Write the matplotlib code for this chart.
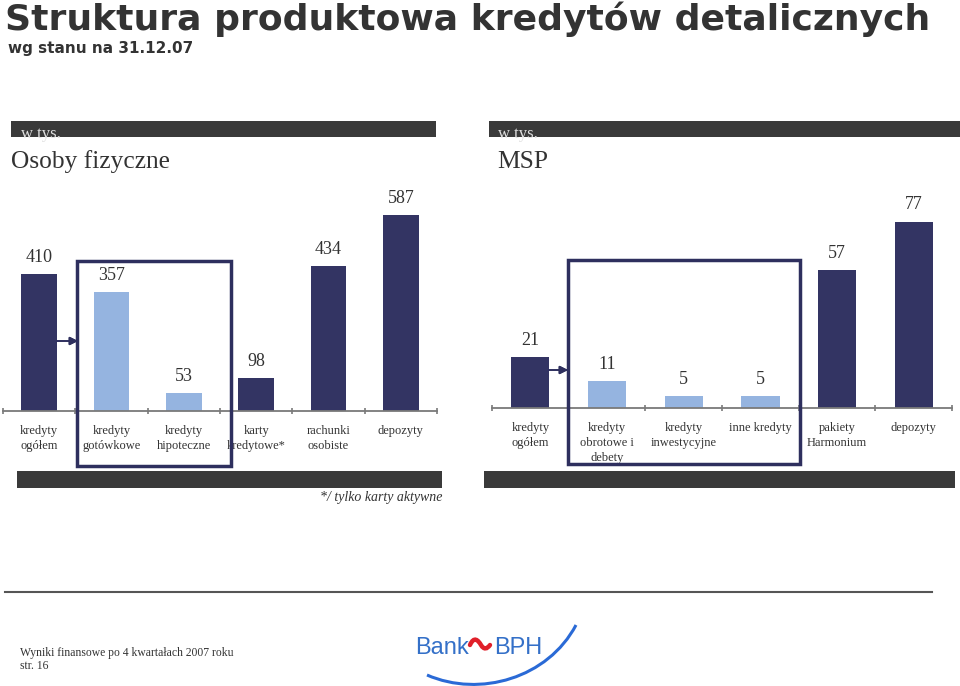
import matplotlib.pyplot as plt
from matplotlib.patches import Rectangle, PathPatch
from matplotlib.path import Path

W, H = 960, 686

# data
osoby_labels = ['kredyty\nogółem', 'kredyty\ngotówkowe', 'kredyty\nhipoteczne',
                'karty\nkredytowe*', 'rachunki\nosobiste', 'depozyty']
osoby_values = [410, 357, 53, 98, 434, 587]
osoby_colors = ['dark', 'light', 'light', 'dark', 'dark', 'dark']

msp_labels = ['kredyty\nogółem', 'kredyty\nobrotowe i\ndebety', 'kredyty\ninwestycyjne',
              'inne kredyty', 'pakiety\nHarmonium', 'depozyty']
msp_values = [21, 11, 5, 5, 57, 77]
msp_colors = ['dark', 'light', 'light', 'light', 'dark', 'dark']

NAVY = '#333463'
LIGHT = '#95b4e0'
GREY = '#3a3a3a'
TXT = '#333333'
SERIF = 'Liberation Serif'

fig = plt.figure(figsize=(9.6, 6.86), dpi=100)


def fx(px):
    return px / W


def fy(py):
    return 1 - py / H


def rect(x0, y0, x1, y1, **kw):
    fig.patches.append(Rectangle((fx(x0), fy(y1)), fx(x1) - fx(x0), fy(y0) - fy(y1),
                                 transform=fig.transFigure, **kw))


def curve(pts, **kw):
    codes = [Path.MOVETO] + [Path.CURVE4] * (len(pts) - 1)
    p = Path([(fx(x), fy(y)) for x, y in pts], codes)
    fig.patches.append(PathPatch(p, fill=False, transform=fig.transFigure, **kw))


# title
fig.text(fx(5), fy(19), 'Struktura produktowa kredytów detalicznych', fontsize=26,
         fontweight='bold', family='DejaVu Sans', color=TXT, va='center')
fig.text(fx(8), fy(48), 'wg stanu na 31.12.07', fontsize=11, fontweight='bold',
         family='DejaVu Sans', color=TXT, va='center')

# header bars
rect(11, 121, 436, 137, color=GREY, lw=0)
rect(489, 121, 960, 137, color=GREY, lw=0)
fig.text(fx(21), fy(138), 'w tys.', fontsize=12, family=SERIF, color='#e0e0e0', va='baseline')
fig.text(fx(498), fy(138), 'w tys.', fontsize=12, family=SERIF, color='#e0e0e0', va='baseline')
fig.text(fx(11), fy(162), 'Osoby fizyczne', fontsize=18.3, family=SERIF, color=TXT, va='center')
fig.text(fx(497), fy(162), 'MSP', fontsize=18.3, family=SERIF, color=TXT, va='center')

# bottom bars
rect(17, 471, 442, 488, color=GREY, lw=0)
rect(484, 471, 955, 488, color=GREY, lw=0)
fig.text(fx(442), fy(498), '*/ tylko karty aktywne', fontsize=10, family=SERIF,
         style='italic', color=TXT, ha='right', va='center')


def panel(left, right, base, scale, ymax, labels, values, colors, width):
    top = base - ymax * scale
    ax = fig.add_axes([fx(left), fy(base), fx(right) - fx(left), (base - top) / H])
    n = len(values)
    cols = [NAVY if c == 'dark' else LIGHT for c in colors]
    bars = ax.bar(range(n), values, width=width, color=cols)
    for b, v in zip(bars, values):
        ax.annotate(str(v), (b.get_x() + b.get_width() / 2, v), xytext=(0, 12),
                    textcoords='offset points', ha='center', va='center',
                    fontsize=13, family=SERIF, color=TXT)
    ax.set_xlim(-0.5, n - 0.5)
    ax.set_ylim(0, ymax)
    for s in ['top', 'right', 'left']:
        ax.spines[s].set_visible(False)
    ax.spines['bottom'].set_color('#7a7a7a')
    ax.spines['bottom'].set_linewidth(1.3)
    ax.set_yticks([])
    ax.set_xticks(range(n))
    ax.set_xticklabels(labels, fontsize=9, family=SERIF, color=TXT, linespacing=1.35,
                       va='top')
    ax.tick_params(axis='x', which='major', length=0, pad=10)
    ax.set_xticks([i - 0.5 for i in range(n + 1)], minor=True)
    ax.tick_params(axis='x', which='minor', length=4, width=1.2, color='#7a7a7a',
                   direction='inout')
    return ax


panel(3, 437, 411, 0.334, 660, osoby_labels, osoby_values, osoby_colors, 0.49)
panel(492, 952, 408, 2.42, 90, msp_labels, msp_values, msp_colors, 0.5)

# highlight boxes
rect(77, 261, 231, 466, fill=False, ec='#2e2f5e', lw=2.5)
rect(568, 260, 800, 464, fill=False, ec='#2e2f5e', lw=2.5)

# arrows
for x0, x1, y in [(57, 78, 341), (549, 568, 370)]:
    fig.add_artist(plt.annotate('', xy=(fx(x1), fy(y)), xytext=(fx(x0), fy(y)),
                                xycoords='figure fraction',
                                arrowprops=dict(arrowstyle='-|>', color='#2e2f5e', lw=1.2,
                                                mutation_scale=12, shrinkA=0, shrinkB=0)))

# footer
fig.add_artist(plt.Line2D([fx(5), fx(932)], [fy(592), fy(592)], color='#555555', lw=1.5,
                          transform=fig.transFigure))
fig.text(fx(20), fy(653), 'Wyniki finansowe po 4 kwartałach 2007 roku', fontsize=8.4,
         family=SERIF, color=TXT, va='center')
fig.text(fx(20), fy(666), 'str. 16', fontsize=8.4, family=SERIF, color=TXT, va='center')

# logo
BLUE = '#3470c8'
fig.text(fx(415), fy(648), 'Bank', fontsize=17, family='Liberation Sans',
         color=BLUE, va='center')
fig.text(fx(494), fy(648), 'BPH', fontsize=17, family='Liberation Sans',
         color=BLUE, va='center')
curve([(470, 645), (474, 636), (478, 640), (481, 645), (484, 650), (487, 649), (490, 645)],
      ec='#e0202a', lw=3.2, capstyle='round')
curve([(427, 675), (480, 698), (548, 678), (576, 625)], ec='#2a6ad6', lw=2.2)

fig.savefig('out.png', dpi=100)
